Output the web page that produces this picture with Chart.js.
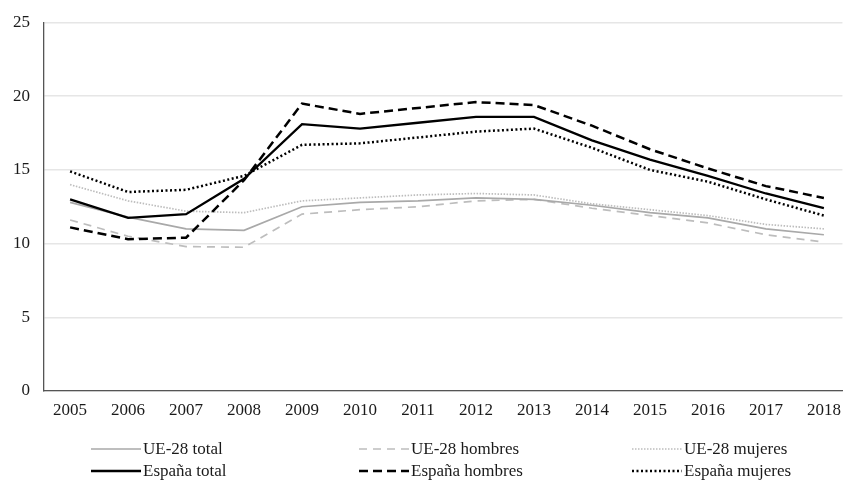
<!DOCTYPE html>
<html>
<head>
<meta charset="utf-8">
<style>
  html, body { margin: 0; padding: 0; background: #fff; }
  #wrap { width: 850px; height: 481px; }
</style>
<script src="https://cdn.jsdelivr.net/npm/chart.js@4.4.1/dist/chart.umd.min.js"></script>
</head>
<body>
<div id="wrap"><canvas id="c" width="850" height="481"></canvas></div>
<script>
// Años
const years = [2005, 2006, 2007, 2008, 2009, 2010, 2011, 2012, 2013, 2014, 2015, 2016, 2017, 2018];

// Series (%)
const ueTotal   = [12.8, 11.8, 11.0, 10.9, 12.5, 12.8, 12.9, 13.1, 13.0, 12.6, 12.1, 11.75, 11.0, 10.6];
const ueHombres = [11.6, 10.5, 9.8, 9.75, 12.0, 12.3, 12.5, 12.9, 13.0, 12.4, 11.9, 11.4, 10.6, 10.1];
const ueMujeres = [14.0, 12.9, 12.2, 12.1, 12.9, 13.1, 13.3, 13.4, 13.3, 12.7, 12.3, 11.9, 11.3, 11.0];
const esTotal   = [13.0, 11.75, 12.0, 14.4, 18.1, 17.8, 18.2, 18.6, 18.6, 17.0, 15.7, 14.6, 13.4, 12.4];
const esHombres = [11.1, 10.3, 10.4, 14.3, 19.5, 18.8, 19.2, 19.6, 19.4, 18.0, 16.4, 15.1, 13.9, 13.1];
const esMujeres = [14.9, 13.5, 13.65, 14.6, 16.7, 16.8, 17.2, 17.6, 17.8, 16.5, 15.0, 14.2, 13.0, 11.9];

// Etiquetas
const seriesLabels = ['UE-28 total', 'UE-28 hombres', 'UE-28 mujeres', 'España total', 'España hombres', 'España mujeres'];
const yTicks = [0, 5, 10, 15, 20, 25];

const FONT = "'Liberation Serif', 'DejaVu Serif', serif";
const FONT_SIZE = 17;

function pts(arr) { return years.map((y, i) => ({ x: y, y: arr[i] })); }

function ds(label, data, color, width, dash, order) {
  return {
    label, data: pts(data), borderColor: color, backgroundColor: color,
    borderWidth: width, borderDash: dash, pointRadius: 0, tension: 0,
    fill: false, order, borderCapStyle: 'butt', borderJoinStyle: 'miter'
  };
}

// Leyenda en rejilla de 3 columnas x 2 filas, dibujada bajo el gráfico
const gridLegend = {
  id: 'gridLegend',
  afterDraw(chart, args, opts) {
    const ctx = chart.ctx;
    ctx.save();
    ctx.font = opts.font;
    ctx.fillStyle = opts.color;
    ctx.textBaseline = 'middle';
    chart.data.datasets.forEach((d, i) => {
      const col = i % 3, row = Math.floor(i / 3);
      const x0 = opts.cols[col], y0 = opts.rows[row];
      ctx.save();
      ctx.strokeStyle = d.borderColor;
      ctx.lineWidth = d.borderWidth;
      ctx.setLineDash(d.borderDash || []);
      ctx.beginPath();
      ctx.moveTo(x0, y0);
      ctx.lineTo(x0 + opts.sample, y0);
      ctx.stroke();
      ctx.restore();
      ctx.fillText(d.label, x0 + opts.sample + opts.gap, y0 + 1);
    });
    ctx.restore();
  }
};

new Chart(document.getElementById('c'), {
  type: 'line',
  data: {
    datasets: [
      ds(seriesLabels[0], ueTotal,   '#a9a9a9', 1.7, [],     2),
      ds(seriesLabels[1], ueHombres, '#bdbdbd', 1.7, [8, 6], 2),
      ds(seriesLabels[2], ueMujeres, '#bdbdbd', 1.7, [1.5, 1.5], 2),
      ds(seriesLabels[3], esTotal,   '#000000', 2.3, [],     1),
      ds(seriesLabels[4], esHombres, '#000000', 2.5, [9, 5], 1),
      ds(seriesLabels[5], esMujeres, '#000000', 2.5, [2, 2.5], 1)
    ]
  },
  options: {
    responsive: false,
    animation: false,
    layout: { padding: { top: 8, right: 5, left: 0, bottom: 0 } },
    plugins: {
      legend: { display: false },
      tooltip: { enabled: false },
      gridLegend: {
        cols: [91, 359, 632], rows: [449, 471], sample: 50, gap: 2,
        font: FONT_SIZE + "px " + FONT, color: '#1a1a1a'
      }
    },
    scales: {
      x: {
        type: 'linear',
        min: 2004.55,
        max: 2018.32,
        afterFit: s => { s.height = 90; },
        afterBuildTicks: s => { s.ticks = years.map(v => ({ value: v })); },
        grid: { display: false, drawTicks: false },
        border: { display: true, color: '#555', width: 1.3 },
        ticks: {
          padding: 9,
          color: '#1a1a1a',
          font: { family: FONT, size: FONT_SIZE },
          maxRotation: 0,
          autoSkip: false,
          callback: v => String(v)
        }
      },
      y: {
        min: 0,
        max: 25,
        afterFit: s => { s.width = 44; },
        afterBuildTicks: s => { s.ticks = yTicks.map(v => ({ value: v })); },
        grid: { color: '#e6e6e6', lineWidth: 1.5, drawTicks: false },
        border: { display: true, color: '#555', width: 1.3 },
        ticks: {
          padding: 14,
          color: '#1a1a1a',
          font: { family: FONT, size: FONT_SIZE, lineHeight: 1.0 }
        }
      }
    }
  },
  plugins: [gridLegend]
});
</script>
</body>
</html>
